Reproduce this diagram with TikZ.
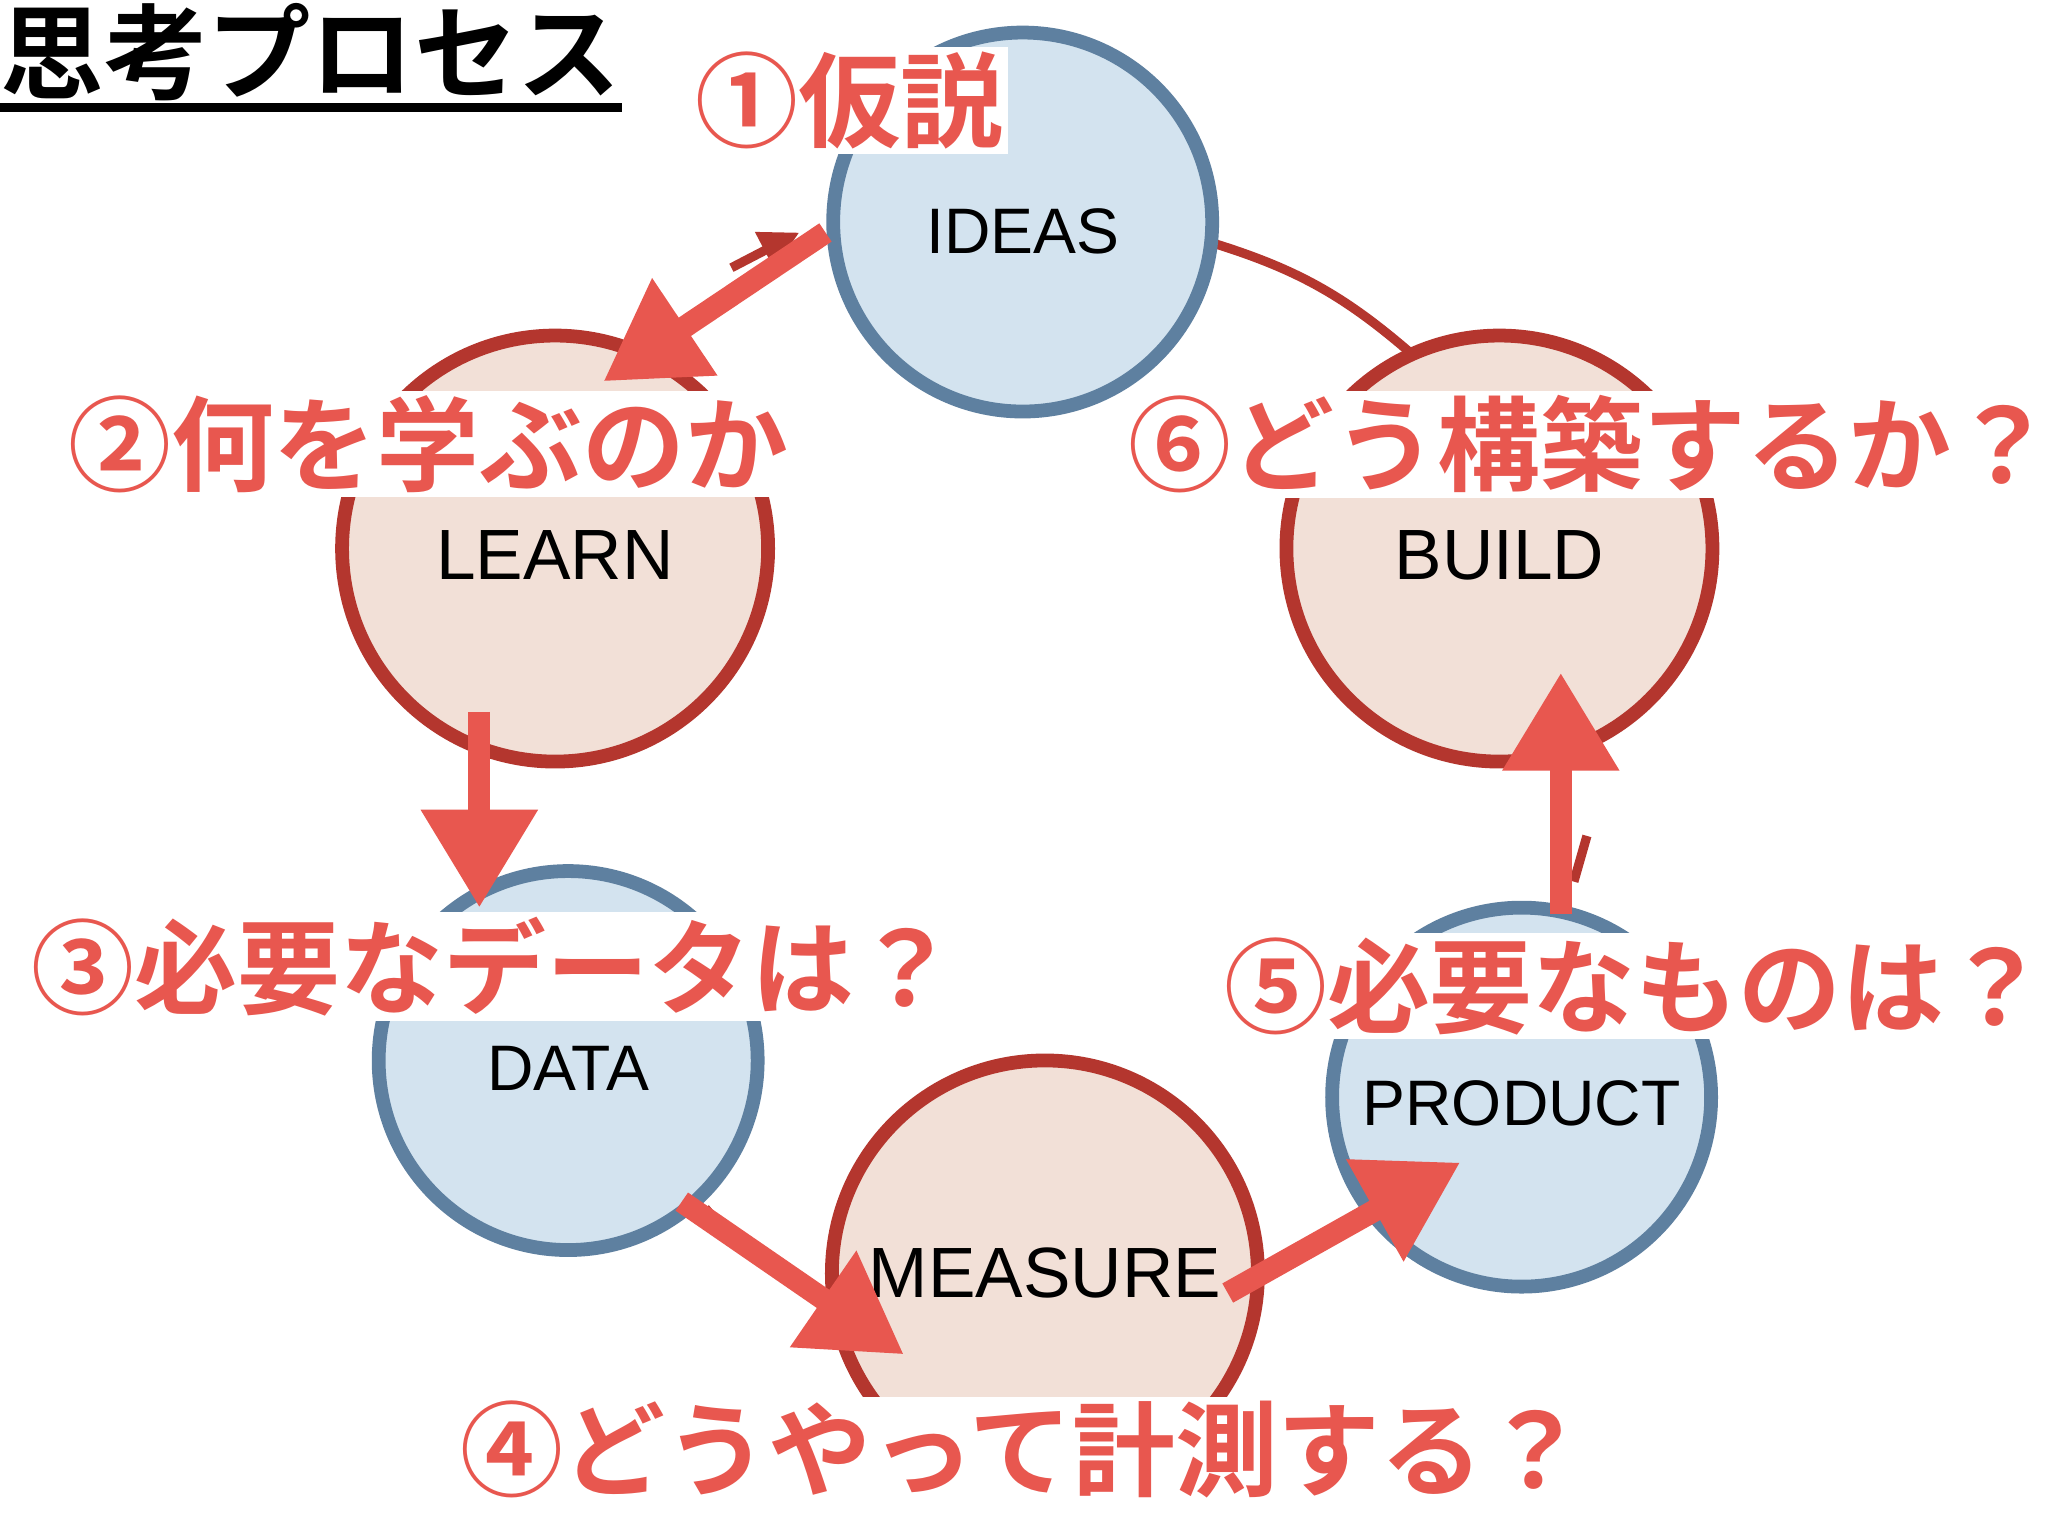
\documentclass[tikz,border=0pt]{standalone}
\usepackage{fontspec}
\setmainfont{Liberation Sans}
\newfontfamily\jp{Noto Sans CJK JP Bold}
\usetikzlibrary{arrows.meta}
\definecolor{bfill}{HTML}{D3E3EF}
\definecolor{bdraw}{HTML}{5E80A0}
\definecolor{pfill}{HTML}{F2E0D7}
\definecolor{pdraw}{HTML}{B4362E}
\definecolor{ared}{HTML}{E8574F}
\tikzset{
 bc/.style={circle,fill=bfill,draw=bdraw,line width=3pt,inner sep=0pt},
 pc/.style={circle,fill=pfill,draw=pdraw,line width=3pt,inner sep=0pt},
 lab/.style={font=\fontsize{15.5}{15.5}\selectfont},
 jl/.style={font=\jp\fontsize{22.4}{22.4}\selectfont,text=ared,fill=white,anchor=west,inner sep=1pt},
 big/.style={draw=ared,line width=4.8pt,-{Triangle[length=0.75cm,width=0.85cm]}},
 old/.style={draw=pdraw,line width=2pt}
}
\begin{document}
\begin{tikzpicture}[x=0.01cm,y=-0.01cm]
\useasboundingbox (0,0) rectangle (1568,1176);
\fill[white] (0,0) rectangle (1568,1176);
\draw[old] (925,185) to[bend left=12] (1082,272);
\draw[old,-{Triangle[length=0.3cm,width=0.3cm]}] (560,205) -- (612,178);
\draw[old] (540,925) -- (565,955);
\draw[old] (1215,640) -- (1205,675);
\node[bc,minimum size=2.9cm] (ideas) at (783,170) {};
\node[pc,minimum size=3.26cm] (learn) at (425,420) {};
\node[pc,minimum size=3.26cm] (build) at (1148,420) {};
\node[bc,minimum size=2.9cm] (data) at (435,812) {};
\node[pc,minimum size=3.26cm] (measure) at (800,975) {};
\node[bc,minimum size=2.9cm] (product) at (1165,840) {};
\node[lab,font=\fontsize{14}{14}\selectfont] (tideas) at (783,177) {IDEAS};
\node[lab] (tlearn) at (425,425) {LEARN};
\node[lab] (tbuild) at (1148,425) {BUILD};
\node[lab,font=\fontsize{14}{14}\selectfont] (tdata) at (435,818) {DATA};
\node[lab] (tmeasure) at (800,975) {MEASURE};
\node[lab,font=\fontsize{14}{14}\selectfont] (tproduct) at (1165,845) {PRODUCT};
\node[font=\jp\fontsize{22.5}{22.5}\selectfont,anchor=west,inner sep=0pt] (title) at (0,40) {思考プロセス};
\draw[line width=2pt] (0,82) -- (476,82);
\node[jl] (l1) at (528,77) {①仮説};
\node[jl] (l2) at (48,340) {②何を学ぶのか};
\node[jl] (l6) at (860,340) {⑥どう構築するか？};
\node[jl] (l3) at (20,740) {③必要なデータは？};
\node[jl] (l5) at (933,755) {⑤必要なものは？};
\node[jl] (l4) at (348,1110) {④どうやって計測する？};
\coordinate (a1s) at (632,178); \coordinate (a1e) at (462,292);
\coordinate (a2s) at (367,545); \coordinate (a2e) at (367,695);
\coordinate (a3s) at (522,920); \coordinate (a3e) at (692,1037);
\coordinate (a4s) at (940,990); \coordinate (a4e) at (1118,890);
\coordinate (a5s) at (1195,700); \coordinate (a5e) at (1195,515);
\draw[big] (a1s) -- (a1e);
\draw[big] (a2s) -- (a2e);
\draw[big] (a3s) -- (a3e);
\draw[big] (a4s) -- (a4e);
\draw[big] (a5s) -- (a5e);
\end{tikzpicture}
\end{document}
